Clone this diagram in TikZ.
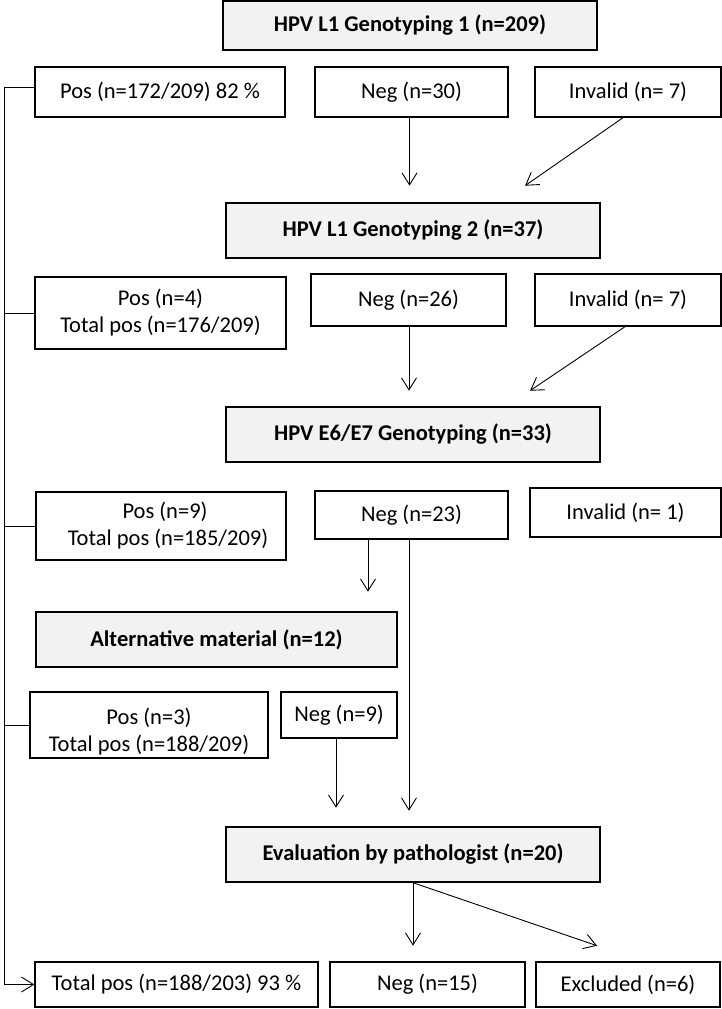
\documentclass[tikz,border=0pt]{standalone}
\usepackage{fontspec}
\setmainfont{Carlito}
\usepackage{tikz}
\usetikzlibrary{arrows.meta,calc}
\usepackage{xcolor}
\definecolor{boxgray}{HTML}{F2F2F2}
\tikzstyle{res}=[draw, line width=1.4pt, inner sep=0pt, align=center, font=\fontsize{22.5}{27}\selectfont]
\tikzstyle{stage}=[res, fill=boxgray, font=\fontsize{22.5}{27}\selectfont\bfseries]
\tikzstyle{arr}=[line width=0.9pt, -{Straight Barb[length=12pt,width=15pt]}]

\begin{document}
\begin{tikzpicture}[x=1pt,y=-1pt]
\useasboundingbox (0,0) rectangle (722,1009);
% stages
\node[stage, minimum width=374, minimum height=49] (s1) at (410,25.5) {HPV L1 Genotyping 1 (n=209)};
\node[stage, minimum width=374, minimum height=55] (s2) at (413,230.5) {HPV L1 Genotyping 2 (n=37)};
\node[stage, minimum width=374, minimum height=55] (s3) at (413,434.5) {HPV E6/E7 Genotyping (n=33)};
\node[stage, minimum width=361, minimum height=55] (s4) at (216.5,639.5) {Alternative material (n=12)};
\node[stage, minimum width=374, minimum height=55] (s5) at (413,854.5) {Evaluation by pathologist (n=20)};
% results
\node[res, minimum width=250, minimum height=50] (pos1) at (160,92) {Pos (n=172/209) 82 \%};
\node[res, minimum width=193, minimum height=50] (neg1) at (411.5,92) {Neg (n=30)};
\node[res, minimum width=186, minimum height=50] (inv1) at (628,92) {Invalid (n= 7)};
\node[res, minimum width=251, minimum height=72] (pos2) at (160.5,313) {Pos (n=4)\\Total pos (n=176/209)};
\node[res, minimum width=195, minimum height=52] (neg2) at (408.5,300) {Neg (n=26)};
\node[res, minimum width=186, minimum height=52] (inv2) at (628,300) {Invalid (n= 7)};
\node[res, minimum width=250, minimum height=68] (pos3) at (161,526) {\hspace*{8pt}Pos (n=9)\\\hspace*{14pt}Total pos (n=185/209)};
\node[res, minimum width=193, minimum height=48] (neg3) at (411.5,515) {Neg (n=23)};
\node[res, minimum width=191, minimum height=49] (inv3) at (625.5,512.5) {Invalid (n= 1)};
\node[res, minimum width=238, minimum height=66] (pos4) at (149,725) {\rule{0pt}{30pt}Pos (n=3)\\Total pos (n=188/209)};
\node[res, minimum width=116, minimum height=46] (neg4) at (339,715) {Neg (n=9)};
\node[res, minimum width=283, minimum height=45] (tot) at (176.5,984.5) {Total pos (n=188/203) 93 \%};
\node[res, minimum width=195, minimum height=45] (neg5) at (427.5,984.5) {Neg (n=15)};
\node[res, minimum width=184, minimum height=45] (excl) at (628,984.5) {Excluded (n=6)};
% left spine
\coordinate (spine) at (4,0);
\draw[line width=0.9pt] (pos1.west |- 0,87) -| (spine |- 0,87);
\foreach \p in {pos2,pos3,pos4} {
	\draw[line width=0.9pt] (\p.west) -- (\p.west -| spine);
}
\draw[arr] (spine |- 0,87) |- (tot.west);
% flow
\draw[arr] ($(neg1.south)+(-2,0)$) -- ++(0,68);
\draw[arr] ($(inv1.south)+(-5,0)$) -- ++(-98,68);
\draw[arr] ($(neg2.south)+(0.5,0)$) -- ++(0,64);
\draw[arr] ($(inv2.south)+(-3,0)$) -- ++(-95,64);
\draw[arr] ($(neg3.south)+(-43.5,0)$) -- ++(0,52);
\draw[arr] ($(neg3.south)+(-2.5,0)$) -- ++(0,271);
\draw[arr] ($(neg4.south)+(-3,0)$) -- ++(0,69);
\draw[arr] (s5.south) -- ++(0,63);
\draw[arr] (s5.south) -- ++(184,63);
\end{tikzpicture}
\end{document}
